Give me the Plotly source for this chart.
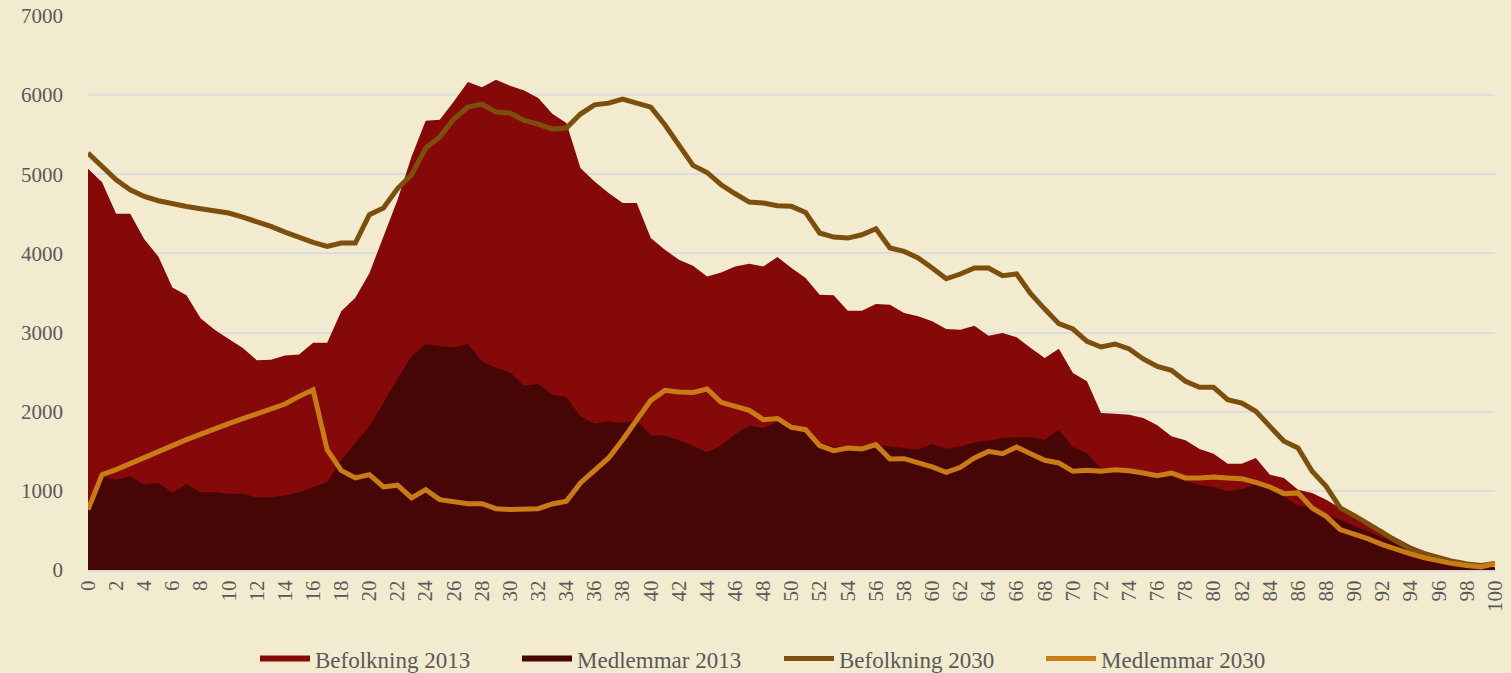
import plotly.graph_objects as go

ages = list(range(0, 101))

befolkning_2013 = [
    5070, 4900, 4500, 4500, 4180, 3960, 3570, 3470, 3180, 3035,
    2920, 2805, 2650, 2657, 2710, 2722, 2870, 2870, 3270, 3440,
    3750, 4215, 4678, 5225, 5676, 5690, 5920, 6165, 6100, 6195,
    6118, 6060, 5963, 5765, 5647, 5078, 4910, 4763, 4636, 4636,
    4194, 4047, 3920, 3845, 3710, 3760, 3836, 3870, 3836, 3955,
    3815, 3690, 3478, 3470, 3276, 3276, 3360, 3352, 3247, 3205,
    3142, 3045, 3036, 3087, 2960, 2995, 2940, 2805, 2679, 2796,
    2489, 2384, 1984, 1975, 1962, 1920, 1830, 1689, 1638, 1528,
    1470, 1344, 1344, 1416, 1205, 1163, 1015, 974, 889, 784,
    678, 586, 489, 405, 308, 236, 173, 131, 89, 56,
    35,
]

medlemmar_2013 = [
    780, 1183, 1141, 1183, 1078, 1107, 974, 1087, 981, 981,
    965, 965, 918, 918, 940, 981, 1045, 1108, 1394, 1605,
    1815, 2110, 2415, 2700, 2855, 2826, 2813, 2855, 2636, 2552,
    2497, 2329, 2350, 2215, 2186, 1941, 1849, 1878, 1857, 1891,
    1701, 1701, 1638, 1571, 1491, 1575, 1718, 1823, 1794, 1880,
    1850, 1760, 1600, 1560, 1560, 1560, 1584, 1562, 1541, 1520,
    1592, 1533, 1562, 1613, 1634, 1668, 1676, 1676, 1647, 1773,
    1550, 1479, 1277, 1250, 1240, 1210, 1171, 1183, 1120, 1078,
    1049, 994, 1024, 1078, 1015, 931, 813, 805, 700, 636,
    552, 489, 405, 342, 266, 207, 153, 110, 68, 47,
    30,
]

befolkning_2030 = [
    5268, 5099, 4930, 4804, 4720, 4666, 4624, 4594, 4564, 4539,
    4510, 4459, 4404, 4341, 4270, 4202, 4139, 4088, 4131, 4131,
    4489, 4573, 4820, 4994, 5331, 5470, 5698, 5850, 5887, 5786,
    5774, 5680, 5635, 5571, 5584, 5761, 5878, 5899, 5950, 5899,
    5849, 5625, 5364, 5112, 5023, 4868, 4754, 4649, 4636, 4602,
    4595, 4518, 4258, 4207, 4194, 4236, 4312, 4068, 4026, 3942,
    3815, 3680, 3740, 3815, 3815, 3718, 3740, 3491, 3297, 3112,
    3045, 2889, 2818, 2856, 2793, 2667, 2573, 2523, 2384, 2308,
    2308, 2152, 2110, 2005, 1815, 1626, 1542, 1247, 1057, 784,
    687, 586, 476, 362, 266, 207, 153, 110, 77, 56,
    81,
]

medlemmar_2030 = [
    763, 1205, 1268, 1340, 1416, 1491, 1571, 1647, 1718, 1786,
    1849, 1912, 1971, 2026, 2097, 2194, 2278, 1520, 1259, 1163,
    1205, 1049, 1072, 911, 1015, 889, 868, 838, 838, 775,
    763, 763, 775, 834, 868, 1100, 1268, 1416, 1647, 1900,
    2143, 2270, 2249, 2244, 2287, 2118, 2060, 2017, 1900, 1915,
    1803, 1773, 1571, 1508, 1541, 1529, 1584, 1403, 1407, 1360,
    1302, 1234, 1297, 1416, 1499, 1470, 1554, 1470, 1386, 1353,
    1247, 1259, 1247, 1268, 1255, 1226, 1192, 1226, 1163, 1163,
    1176, 1163, 1154, 1108, 1049, 965, 974, 784, 678, 510,
    456, 393, 321, 258, 203, 153, 110, 81, 56, 39,
    81,
]

x_tick_vals = list(range(0, 101, 2))
x_tick_text = [str(v) for v in x_tick_vals]
y_tick_vals = list(range(0, 7001, 1000))
y_tick_text = [str(v) for v in y_tick_vals]

names = ["Befolkning 2013", "Medlemmar 2013", "Befolkning 2030", "Medlemmar 2030"]

FONT = "Liberation Serif"
TXT = "#595959"
BG = "#f2ebd0"
GRID = "#dcdcdf"

fig = go.Figure()
fig.add_trace(go.Scatter(x=ages, y=befolkning_2013, name=names[0], mode="none",
                         fill="tozeroy", fillcolor="#850909"))
fig.add_trace(go.Scatter(x=ages, y=medlemmar_2013, name=names[1], mode="none",
                         fill="tozeroy", fillcolor="#470606"))
fig.add_trace(go.Scatter(x=ages, y=befolkning_2030, name=names[2], mode="lines",
                         line=dict(color="#7d4f0c", width=5)))
fig.add_trace(go.Scatter(x=ages, y=medlemmar_2030, name=names[3], mode="lines",
                         line=dict(color="#c97c16", width=5)))

fig.update_layout(
    width=1511, height=673,
    paper_bgcolor=BG, plot_bgcolor=BG,
    margin=dict(l=88, r=16, t=16, b=103, autoexpand=False),
    font=dict(family=FONT, size=21, color=TXT),
    showlegend=True,
    legend=dict(orientation="h", x=(255 - 88) / 1407, xanchor="left", y=-0.16, yanchor="middle",
                font=dict(family=FONT, size=23, color=TXT), itemwidth=50,
                entrywidth=197, entrywidthmode="pixels",
                bgcolor="rgba(0,0,0,0)", traceorder="normal"),
    xaxis=dict(range=[0, 100], tickmode="array", tickvals=x_tick_vals, ticktext=x_tick_text,
               tickangle=-90, showgrid=False, zeroline=False, showline=True,
               linecolor=GRID, linewidth=2, ticks="", ticklen=0,
               tickfont=dict(family=FONT, size=21, color=TXT)),
    yaxis=dict(range=[0, 7000], tickmode="array", tickvals=y_tick_vals, ticktext=y_tick_text,
               showgrid=True, gridcolor=GRID, gridwidth=2, zeroline=False, showline=False,
               ticks="", ticklabelstandoff=24,
               tickfont=dict(family=FONT, size=21, color=TXT)),
)

fig.write_html("out.html", config={"displayModeBar": False},
               post_script="document.body.style.margin='0';document.body.style.background='" + BG + "';")
